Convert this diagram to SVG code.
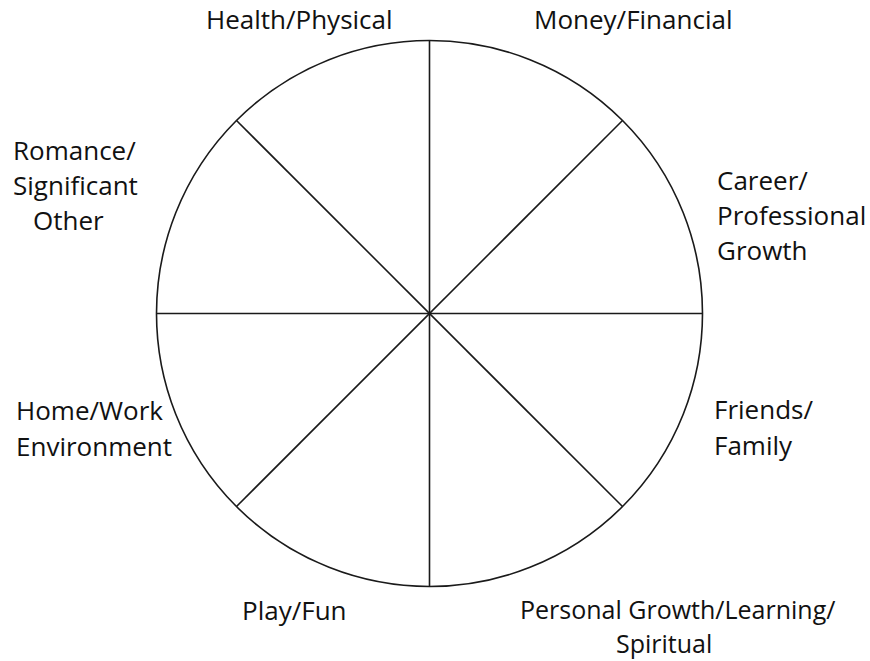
<svg xmlns="http://www.w3.org/2000/svg" width="870" height="661" viewBox="0 0 870 661">
<style>
.ln{stroke:#1a1a1a;stroke-width:1.6;fill:none}
text{font-family:"Open Sans","Liberation Sans",sans-serif;font-size:26px;fill:#111}
.sm{font-size:25px}
</style>
<rect width="870" height="661" fill="#fff"/>
<g id="connectors">
<line class="ln" x1="429.5" y1="41" x2="429.5" y2="587"/>
<line class="ln" x1="156.5" y1="313.5" x2="702.5" y2="313.5"/>
<line class="ln" x1="236.5" y1="120.5" x2="622.5" y2="506.5"/>
<line class="ln" x1="622.5" y1="120.5" x2="236.5" y2="506.5"/>
</g>
<g id="wheel"><circle class="ln" cx="429.5" cy="313.5" r="273"/></g>
<g id="health"><text x="206" y="29">Health/Physical</text></g>
<g id="money"><text x="534" y="29">Money/Financial</text></g>
<g id="romance"><text x="13" y="160">Romance/</text><text x="13" y="195">Significant</text><text x="33" y="230">Other</text></g>
<g id="career"><text x="717" y="190">Career/</text><text x="717" y="225">Professional</text><text x="717" y="260">Growth</text></g>
<g id="home"><text x="16" y="420">Home/Work</text><text x="16" y="456">Environment</text></g>
<g id="friends"><text x="714" y="419">Friends/</text><text x="714" y="455">Family</text></g>
<g id="play"><text x="242" y="620">Play/Fun</text></g>
<g id="personal"><text class="sm" x="520" y="619">Personal Growth/Learning/</text><text class="sm" x="616" y="653">Spiritual</text></g>
</svg>
